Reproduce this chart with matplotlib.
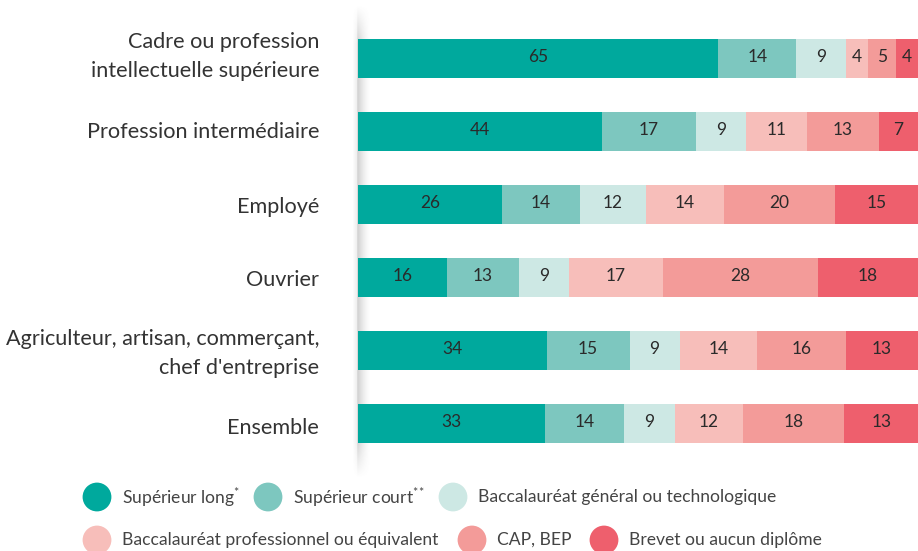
import numpy as np
import matplotlib
matplotlib.use("Agg")
import matplotlib.pyplot as plt

plt.rcParams['font.family'] = ['Lato', 'DejaVu Sans']
plt.rcParams['mathtext.fontset'] = 'custom'
plt.rcParams['mathtext.rm'] = 'Lato'

categories = ["Cadre ou profession\nintellectuelle supérieure",
              "Profession intermédiaire",
              "Employé",
              "Ouvrier",
              "Agriculteur, artisan, commerçant,\nchef d'entreprise",
              "Ensemble"]
series_names = ["Supérieur long$^{*}$", "Supérieur court$^{*\\!*}$",
                "Baccalauréat général ou technologique",
                "Baccalauréat professionnel ou équivalent",
                "CAP, BEP", "Brevet ou aucun diplôme"]
sup_long = [65, 44, 26, 16, 34, 33]
sup_court = [14, 17, 14, 13, 15, 14]
bac_gen = [9, 9, 12, 9, 9, 9]
bac_pro = [4, 11, 14, 17, 14, 12]
cap_bep = [5, 13, 20, 28, 16, 18]
brevet = [4, 7, 15, 18, 13, 13]
colors = ["#00A99D", "#7DC7BF", "#CDE8E4", "#F7BEBA", "#F39B99", "#EE5F6D"]

data = np.array([sup_long, sup_court, bac_gen, bac_pro, cap_bep, brevet], dtype=float)
totals = data.sum(axis=0)
widths = data / totals * 100

W, H = 918, 551
fig = plt.figure(figsize=(W/100, H/100), dpi=100)

# shadow line
sax = fig.add_axes([350/W, 1-478/H, 24/W, 473/H])
sax.axis('off')
nx, ny = 24, 400
xs = np.arange(nx) + 350
alpha_x = np.where(xs < 357, np.clip((xs-352)/5, 0, 1)*0.12,
                   np.clip(1-(xs-357)/13, 0, 1)**1.6*0.28)
yy = np.linspace(0, 1, ny)
alpha_y = np.clip(np.minimum(yy, 1-yy)/0.08, 0, 1)
img = np.zeros((ny, nx, 4))
img[..., :3] = 0.35
img[..., 3] = alpha_y[:, None]*alpha_x[None, :]
sax.imshow(img, aspect='auto', extent=[0, 1, 0, 1], interpolation='bilinear')
sax.set_xlim(0, 1); sax.set_ylim(0, 1)

ax = fig.add_axes([358/W, 1-460/H, 560/W, 438/H])
ax.patch.set_alpha(0)
y = np.arange(len(categories))
left = np.zeros(len(categories))
for i in range(len(series_names)):
    ax.barh(y, widths[i], left=left, height=0.535, color=colors[i], edgecolor='none')
    for j in range(len(categories)):
        ax.text(left[j] + widths[i][j]/2, y[j] - 0.02, f"{int(data[i][j])}",
                ha='center', va='center', fontsize=12.5, color='#2a2a2a')
    left += widths[i]
ax.set_xlim(0, 100)
ax.set_ylim(5.5, -0.5)
ax.axis('off')

label_offsets = [-0.03, 0.01, 0.04, 0.03, 0.04, 0.06]
for j, c in enumerate(categories):
    ax.text(-6.9, y[j] + label_offsets[j], c, ha='right', va='center',
            fontsize=15.6, color='#333333', linespacing=1.55)

# legend
lax = fig.add_axes([0, 0, 1, 1])
lax.patch.set_alpha(0)
lax.set_xlim(0, W); lax.set_ylim(H, 0)
lax.axis('off')
legend_pos = [(97, 497), (268, 497), (453, 497), (97, 540), (472, 540), (604, 540)]
for (cx, cy), name, col in zip(legend_pos, series_names, colors):
    lax.scatter([cx], [cy], s=430, color=col, edgecolors='none')
    lax.text(cx + 25, cy, name, ha='left', va='center', fontsize=12.6,
             color='#444444')

fig.savefig("out.png", dpi=100)
